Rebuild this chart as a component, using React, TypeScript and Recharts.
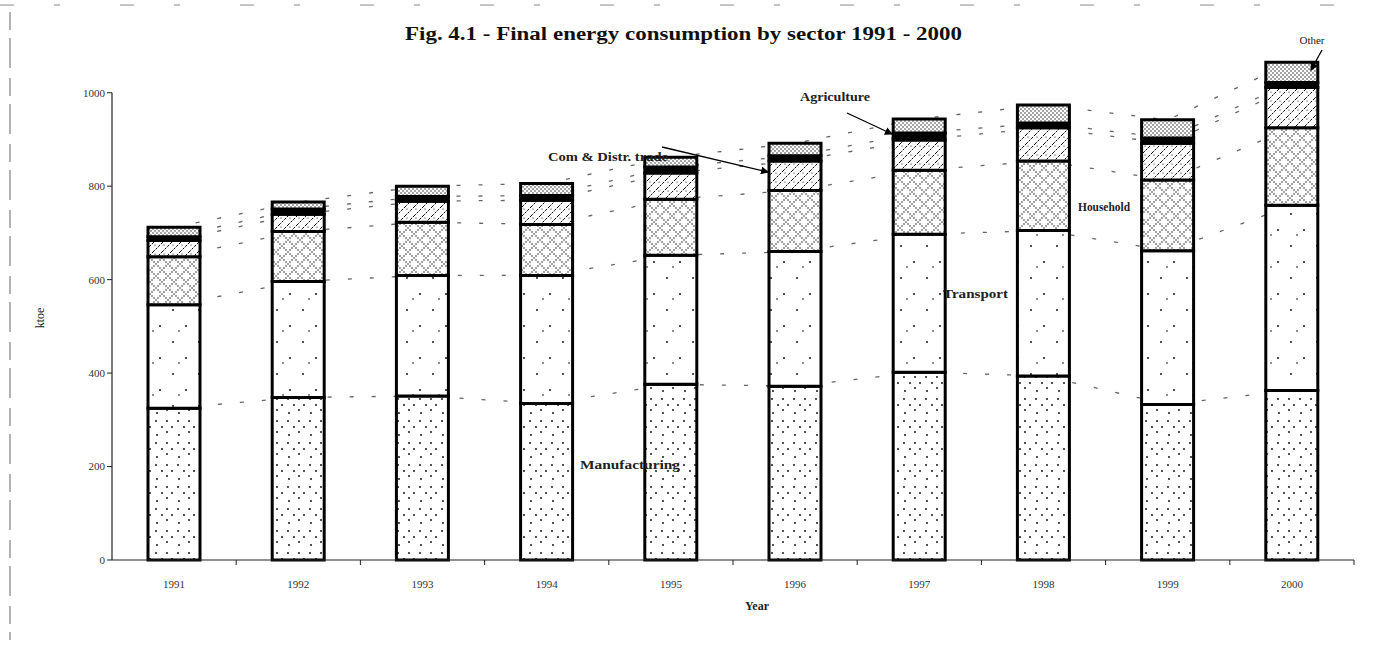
import React from 'react';
import { ComposedChart, Bar, Line, XAxis, YAxis, ReferenceLine } from 'recharts';

const YEARS = ['1991', '1992', '1993', '1994', '1995', '1996', '1997', '1998', '1999', '2000'];
const MANUFACTURING = [325, 348, 351, 335, 376, 372, 402, 394, 333, 363];
const TRANSPORT = [221, 248, 258, 274, 276, 288, 295, 311, 329, 396];
const HOUSEHOLD = [103, 107, 114, 109, 120, 131, 137, 149, 151, 166];
const COM_TRADE = [35, 37, 45, 52, 56, 63, 65, 71, 79, 86];
const AGRICULTURE = [8, 11, 10, 10, 13, 11, 15, 10, 11, 11];
const OTHER = [20, 15, 22, 26, 21, 27, 30, 39, 39, 43];
const Y_TICKS = [0, 200, 400, 600, 800, 1000];

const TITLE = 'Fig. 4.1 - Final energy consumption by sector 1991 - 2000';

const data = YEARS.map((year, i) => {
  const m = MANUFACTURING[i];
  const t = m + TRANSPORT[i];
  const h = t + HOUSEHOLD[i];
  const c = h + COM_TRADE[i];
  const a = c + AGRICULTURE[i];
  const o = a + OTHER[i];
  return {
    year,
    manufacturing: MANUFACTURING[i],
    transport: TRANSPORT[i],
    household: HOUSEHOLD[i],
    comTrade: COM_TRADE[i],
    agriculture: AGRICULTURE[i],
    other: OTHER[i],
    cumM: m,
    cumT: t,
    cumH: h,
    cumC: c,
    cumA: a,
    cumO: o,
  };
});

const FONT = '"Liberation Serif", "Times New Roman", serif';

const XTick = (props: any) => {
  const { x, y, payload } = props;
  const off = payload && typeof payload.offset === 'number' && payload.offset > 0 ? payload.offset : 62;
  return (
    <g>
      <line x1={x + off} y1={y} x2={x + off} y2={y + 5} stroke="#222" strokeWidth={1} />
      <text x={x} y={y + 28} textAnchor="middle" fontSize={11} fill="#333" fontFamily={FONT}>
        {payload.value}
      </text>
    </g>
  );
};

const seriesLineKeys = ['cumM', 'cumT', 'cumH', 'cumC', 'cumA', 'cumO'];

export default function App() {
  return (
    <div style={{ position: 'absolute', left: 0, top: 0, width: 1374, height: 646, background: '#fff' }}>
      <ComposedChart
        width={1374}
        height={646}
        data={data}
        margin={{ top: 46, right: 20, bottom: 56, left: 52 }}
        barSize={52}
      >
        <defs>
          <pattern id="pMfg" width="22" height="22" patternUnits="userSpaceOnUse">
            <rect width="22" height="22" fill="#fff" />
            <circle cx="2" cy="3" r="0.9" fill="#000" />
            <circle cx="8" cy="9" r="0.9" fill="#000" />
            <circle cx="13" cy="14" r="0.9" fill="#000" />
            <circle cx="18" cy="9" r="0.9" fill="#000" />
            <circle cx="13" cy="3" r="0.9" fill="#000" />
            <circle cx="3" cy="17" r="0.9" fill="#000" />
          </pattern>
          <pattern id="pTrn" width="26" height="32" patternUnits="userSpaceOnUse">
            <rect width="26" height="32" fill="#fff" />
            <circle cx="4" cy="6" r="0.9" fill="#000" />
            <circle cx="17" cy="22" r="0.9" fill="#000" />
            <circle cx="23" cy="11" r="0.8" fill="#000" />
          </pattern>
          <pattern id="pHh" width="12" height="12" patternUnits="userSpaceOnUse">
            <rect width="12" height="12" fill="#fff" />
            <circle cx="0" cy="0" r="0.7" fill="#000" />
            <circle cx="2" cy="2" r="0.7" fill="#000" />
            <circle cx="4" cy="4" r="0.7" fill="#000" />
            <circle cx="6" cy="6" r="0.7" fill="#000" />
            <circle cx="8" cy="4" r="0.7" fill="#000" />
            <circle cx="10" cy="2" r="0.7" fill="#000" />
            <circle cx="12" cy="0" r="0.7" fill="#000" />
            <circle cx="8" cy="8" r="0.7" fill="#000" />
            <circle cx="10" cy="10" r="0.7" fill="#000" />
            <circle cx="12" cy="12" r="0.7" fill="#000" />
            <circle cx="4" cy="8" r="0.7" fill="#000" />
            <circle cx="2" cy="10" r="0.7" fill="#000" />
            <circle cx="0" cy="12" r="0.7" fill="#000" />
          </pattern>
          <pattern id="pCom" width="9" height="9" patternUnits="userSpaceOnUse">
            <rect width="9" height="9" fill="#fff" />
            <path d="M0,9 L9,0" stroke="#000" strokeWidth="1" strokeDasharray="2.5 1.2" />
            <circle cx="2" cy="2" r="0.6" fill="#000" />
          </pattern>
          <pattern id="pOth" width="4" height="4" patternUnits="userSpaceOnUse">
            <rect width="4" height="4" fill="#fff" />
            <circle cx="1" cy="1" r="0.65" fill="#000" />
            <circle cx="3" cy="3" r="0.65" fill="#000" />
          </pattern>
        </defs>
        <XAxis
          dataKey="year"
          height={30}
          tickSize={0}
          tickMargin={0}
          tick={<XTick />}
          axisLine={{ stroke: '#222', strokeWidth: 1.2 }}
          tickLine={false}
        />
        <YAxis
          width={60}
          domain={[0, 1100]}
          ticks={Y_TICKS}
          allowDataOverflow={false}
          axisLine={false}
          tickSize={5}
          tickLine={{ stroke: '#222' }}
          tick={{ fontSize: 11, fill: '#333', fontFamily: FONT }}
        />
        <ReferenceLine
          segment={[{ x: '1991', y: 0 }, { x: '1991', y: 1000 }]}
          position="start"
          stroke="#222"
          strokeWidth={1.2}
          ifOverflow="visible"
        />
        {seriesLineKeys.map((k) => (
          <Line
            key={k}
            dataKey={k}
            type="linear"
            stroke="#666"
            strokeWidth={1.3}
            strokeDasharray="4 18"
            dot={false}
            activeDot={false}
            isAnimationActive={false}
            zIndex={250}
            legendType="none"
          />
        ))}
        <Bar dataKey="manufacturing" stackId="s" fill="url(#pMfg)" stroke="#000" strokeWidth={3} isAnimationActive={false} />
        <Bar dataKey="transport" stackId="s" fill="url(#pTrn)" stroke="#000" strokeWidth={3} isAnimationActive={false} />
        <Bar dataKey="household" stackId="s" fill="url(#pHh)" stroke="#000" strokeWidth={3} isAnimationActive={false} />
        <Bar dataKey="comTrade" stackId="s" fill="url(#pCom)" stroke="#000" strokeWidth={3} isAnimationActive={false} />
        <Bar dataKey="agriculture" stackId="s" fill="#000" stroke="#000" strokeWidth={3} isAnimationActive={false} />
        <Bar dataKey="other" stackId="s" fill="url(#pOth)" stroke="#000" strokeWidth={3} isAnimationActive={false} />
      </ComposedChart>
      <svg
        width={1374}
        height={646}
        style={{ position: 'absolute', left: 0, top: 0, pointerEvents: 'none' }}
        fontFamily={FONT}
      >
        <defs>
          <marker id="arrowHead" markerWidth="8" markerHeight="8" refX="7" refY="4" orient="auto" markerUnits="userSpaceOnUse">
            <path d="M0,0 L8,4 L0,8 z" fill="#000" />
          </marker>
        </defs>
        <line x1={0} y1={5} x2={1374} y2={5} stroke="#888" strokeWidth={1} strokeDasharray="14 40 6 60" />
        <line x1={10} y1={12} x2={10} y2={640} stroke="#666" strokeWidth={1} strokeDasharray="18 8 30 10" />
        <text x={405} y={40} fontSize={18} fontWeight="bold" fill="#111" textLength={557} lengthAdjust="spacingAndGlyphs">
          {TITLE}
        </text>
        <text x={44} y={318} textAnchor="middle" fontSize={12} fill="#222" transform="rotate(-90 44 318)">
          ktoe
        </text>
        <text x={757} y={610} textAnchor="middle" fontSize={12} fontWeight="bold" fill="#222">
          Year
        </text>
        <text x={1312} y={44} textAnchor="middle" fontSize={11} fill="#222">
          Other
        </text>
        <line x1={1322} y1={50} x2={1311} y2={70} stroke="#000" strokeWidth={1.3} markerEnd="url(#arrowHead)" />
        <text x={800} y={101} fontSize={12} fontWeight="bold" fill="#222" textLength={70} lengthAdjust="spacingAndGlyphs">
          Agriculture
        </text>
        <line x1={847} y1={113} x2={892} y2={134} stroke="#000" strokeWidth={1.3} markerEnd="url(#arrowHead)" />
        <text x={548} y={161} fontSize={12} fontWeight="bold" fill="#222" textLength={120} lengthAdjust="spacingAndGlyphs">
          Com &amp; Distr. trade
        </text>
        <line x1={662} y1={147} x2={768} y2={172} stroke="#000" strokeWidth={1.3} markerEnd="url(#arrowHead)" />
        <text x={1078} y={211} fontSize={12} fontWeight="bold" fill="#222" textLength={52} lengthAdjust="spacingAndGlyphs">
          Household
        </text>
        <text x={943} y={298} fontSize={13} fontWeight="bold" fill="#222" textLength={65} lengthAdjust="spacingAndGlyphs">
          Transport
        </text>
        <text x={580} y={469} fontSize={13} fontWeight="bold" fill="#222" textLength={100} lengthAdjust="spacingAndGlyphs">
          Manufacturing
        </text>
      </svg>
    </div>
  );
}
